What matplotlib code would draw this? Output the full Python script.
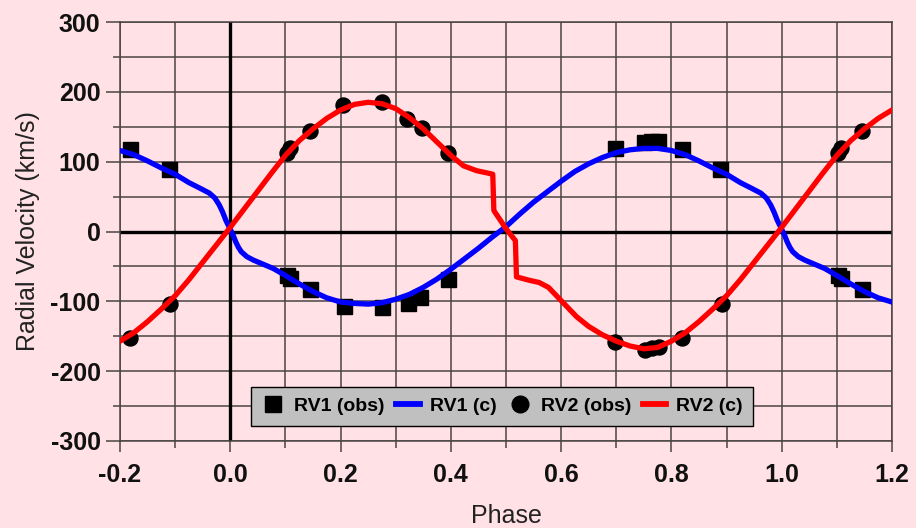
import numpy as np
import matplotlib
matplotlib.use("Agg")
import matplotlib.pyplot as plt
from matplotlib import ticker
from matplotlib.lines import Line2D

# observed radial velocities, primary (RV1) and secondary (RV2), one cycle
rv1_obs_phase = [0.102, 0.108, 0.145, 0.207, 0.275, 0.323, 0.344, 0.395,
                 0.698, 0.750, 0.763, 0.776, 0.819, 0.888]
rv1_obs_vel = [-63, -66, -83, -106, -108, -103, -94, -68,
               120, 128, 130, 129, 118, 90]

rv2_obs_phase = [0.102, 0.108, 0.145, 0.205, 0.275, 0.320, 0.347, 0.395,
                 0.698, 0.752, 0.765, 0.778, 0.819, 0.891]
rv2_obs_vel = [113, 120, 144, 181, 186, 161, 148, 113,
               -158, -169, -167, -166, -152, -104]

# computed curves over one cycle
rv1_c_phase = [0.000, 0.005, 0.010, 0.015, 0.020, 0.030, 0.042, 0.060, 0.078,
               0.100, 0.125, 0.150, 0.175, 0.200, 0.225, 0.250, 0.275, 0.300,
               0.325, 0.350, 0.375, 0.400, 0.425, 0.450, 0.475, 0.500, 0.525,
               0.550, 0.575, 0.600, 0.625, 0.650, 0.675, 0.700, 0.725, 0.750,
               0.775, 0.800, 0.825, 0.850, 0.875, 0.900, 0.925, 0.945, 0.962,
               0.972, 0.980, 0.986, 0.992, 1.000]
rv1_c_vel = [3, -5, -15, -23, -29, -36, -41, -47, -53,
             -63, -75, -86, -95, -101, -103, -104, -102, -97,
             -90, -80, -68, -54, -39, -24, -8, 7, 25,
             42, 57, 72, 86, 97, 106, 113, 117, 119,
             119, 116, 110, 101, 91, 82, 70, 62, 55,
             48, 38, 28, 16, 3]

rv2_c_phase = [0.000, 0.025, 0.050, 0.075, 0.100, 0.125, 0.150, 0.175, 0.200,
               0.225, 0.250, 0.275, 0.300, 0.325, 0.350, 0.375, 0.400, 0.423,
               0.447, 0.465, 0.476, 0.478, 0.500, 0.517, 0.519, 0.543, 0.560,
               0.577, 0.600, 0.628, 0.650, 0.675, 0.700, 0.725, 0.750, 0.775,
               0.800, 0.825, 0.850, 0.875, 0.900, 0.925, 0.950, 0.975, 1.000]
rv2_c_vel = [6, 32, 58, 84, 109, 130, 147, 162, 174,
             182, 185, 183, 176, 163, 147, 128, 109, 94,
             87, 84, 82, 30, 4, -13, -65, -70, -73,
             -80, -99, -122, -136, -148, -157, -164, -168, -166,
             -157, -145, -129, -111, -92, -69, -44, -19, 6]

x_lo, x_hi = -0.2, 1.2


def wrap(ph, v):
    """Repeat one cycle at phase -1, 0, +1."""
    ph = np.asarray(ph, dtype=float)
    v = np.asarray(v, dtype=float)
    return np.concatenate([ph - 1, ph, ph + 1]), np.tile(v, 3)


def wrap_obs(ph, v):
    x, y = wrap(ph, v)
    keep = (x >= x_lo) & (x <= x_hi)
    return x[keep], y[keep]


plt.rcParams["font.family"] = ["Liberation Sans", "DejaVu Sans"]
plt.rcParams["axes.unicode_minus"] = False

bg = "#FFE1E6"
grid_c = "#4a4444"

fig = plt.figure(figsize=(9.16, 5.28), dpi=100, facecolor=bg)
ax = fig.add_axes([120 / 916, 1 - 441 / 528, 772 / 916, 419 / 528])
ax.set_facecolor(bg)

x1, y1 = wrap_obs(rv1_obs_phase, rv1_obs_vel)
x2, y2 = wrap_obs(rv2_obs_phase, rv2_obs_vel)
cx1, cy1 = wrap(rv1_c_phase, rv1_c_vel)
cx2, cy2 = wrap(rv2_c_phase, rv2_c_vel)

ax.plot(x1, y1, ls="none", marker="s", ms=10.8, color="black", zorder=3)
ax.plot(x2, y2, ls="none", marker="o", ms=10.8, color="black", zorder=3)
ax.plot(cx1, cy1, color="#0000FF", lw=3.8, zorder=4, solid_joinstyle="round")
ax.plot(cx2, cy2, color="#FF0000", lw=3.8, zorder=5, solid_joinstyle="round")

ax.axhline(0, color="black", lw=2.4, zorder=2)
ax.axvline(0, color="black", lw=2.4, zorder=2)

ax.set_xlim(x_lo, x_hi)
ax.set_ylim(-300, 300)

ax.xaxis.set_major_locator(ticker.MultipleLocator(0.2))
ax.xaxis.set_minor_locator(ticker.MultipleLocator(0.1))
ax.yaxis.set_major_locator(ticker.MultipleLocator(100))
ax.yaxis.set_minor_locator(ticker.MultipleLocator(50))
ax.xaxis.set_major_formatter(ticker.FormatStrFormatter("%.1f"))
ax.yaxis.set_major_formatter(ticker.FormatStrFormatter("%d"))

ax.grid(True, which="both", color=grid_c, lw=1.1, zorder=1)
ax.set_axisbelow(True)
for s in ax.spines.values():
    s.set_color(grid_c)
    s.set_linewidth(1.1)

ax.tick_params(axis="x", which="major", length=8, width=1.1, color=grid_c, pad=8)
ax.tick_params(axis="y", which="major", length=10, width=1.1, color=grid_c, pad=4)
ax.tick_params(which="minor", length=5, width=1.1, color=grid_c)
for lab in ax.get_xticklabels() + ax.get_yticklabels():
    lab.set_fontsize(18)
    lab.set_fontweight("bold")
    lab.set_color("#111111")

fig.text(506 / 916, 1 - 523 / 528, "Phase", fontsize=18, color="#222222",
         ha="center", va="baseline")
fig.text(35 / 916, 1 - 231 / 528, "Radial Velocity (km/s)", fontsize=18,
         color="#222222", rotation=90, rotation_mode="anchor",
         ha="center", va="baseline")

handles = [
    Line2D([], [], ls="none", marker="s", ms=12, color="black"),
    Line2D([], [], color="#0000FF", lw=4.2),
    Line2D([], [], ls="none", marker="o", ms=12, color="black"),
    Line2D([], [], color="#FF0000", lw=4.2),
]
labels = ["RV1 (obs)", "RV1 (c)", "RV2 (obs)", "RV2 (c)"]
leg = ax.legend(handles, labels, ncol=4, loc="center",
                bbox_to_anchor=(0.4948, 0.0835), frameon=True, fancybox=False,
                facecolor="#C0C0C0", edgecolor="black", framealpha=1,
                prop={"size": 14, "weight": "bold"}, handlelength=1.2,
                handletextpad=0.5, columnspacing=0.6, borderpad=0.55)
leg.get_frame().set_linewidth(1.0)
leg.set_zorder(10)

fig.savefig("out.png", dpi=100, facecolor=bg)
